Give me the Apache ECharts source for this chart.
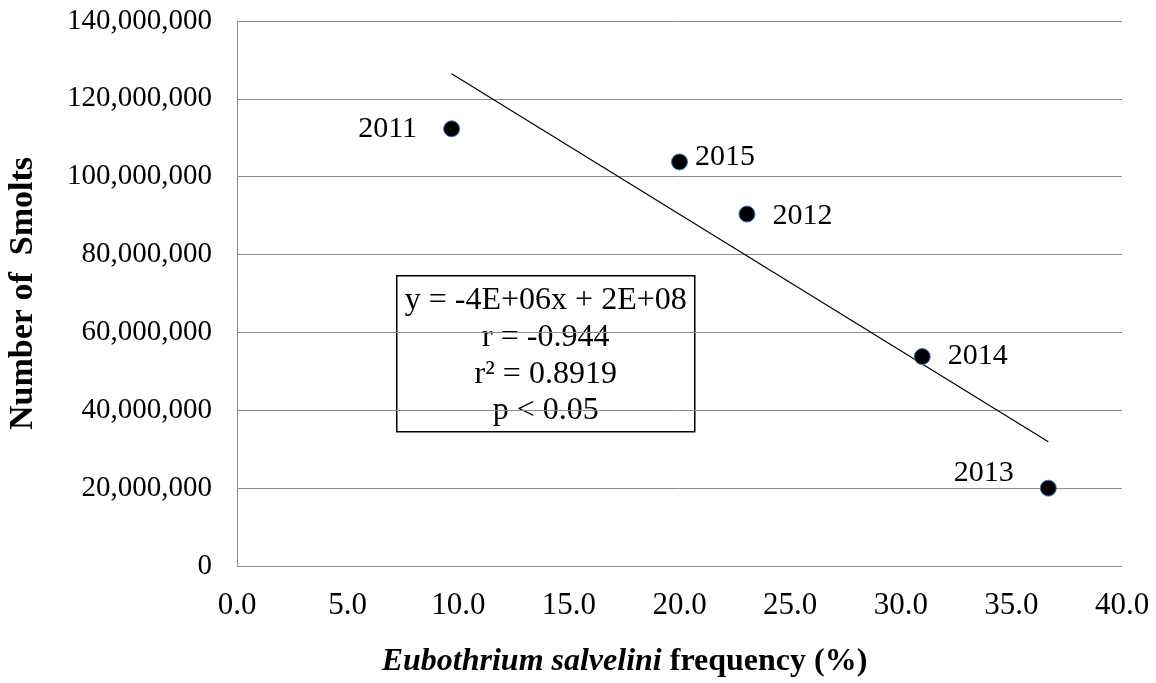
<!DOCTYPE html>
<html>
<head>
<meta charset="utf-8">
<script src="https://cdn.jsdelivr.net/npm/echarts@6/dist/echarts.min.js"></script>
<style>
html,body{margin:0;padding:0;background:#fff;}
#chart{width:1156px;height:683px;}
</style>
</head>
<body>
<div id="chart"></div>
<script>
// Smolt counts against Eubothrium salvelini frequency, by year
const years = ['2011', '2015', '2012', '2014', '2013'];
const frequency = [9.7, 20.0, 23.05, 30.97, 36.67];
const smolts = [112300000, 103800000, 90400000, 53800000, 20000000];
const statsLines = ['y = -4E+06x + 2E+08', 'r = -0.944', 'r\u00B2 = 0.8919', 'p < 0.05'];

// Where each year label sits relative to its point
const labelLayout = [
  { position: 'left', distance: 26, offset: [0, 0] },
  { position: 'right', distance: 7, offset: [0, -5] },
  { position: 'right', distance: 17, offset: [0, 2] },
  { position: 'right', distance: 17, offset: [0, 0] },
  { position: 'left', distance: 26, offset: [0, -15] }
];

// Least-squares fit drawn between the smallest and largest frequency
function linearFit(xs, ys) {
  const n = xs.length;
  const mx = xs.reduce((a, b) => a + b, 0) / n;
  const my = ys.reduce((a, b) => a + b, 0) / n;
  let sxy = 0, sxx = 0;
  for (let i = 0; i < n; i++) {
    sxy += (xs[i] - mx) * (ys[i] - my);
    sxx += (xs[i] - mx) * (xs[i] - mx);
  }
  const slope = sxy / sxx;
  return { slope, intercept: my - slope * mx };
}
const fit = linearFit(frequency, smolts);
const xMin = Math.min(...frequency), xMax = Math.max(...frequency);
const trend = [[xMin, fit.intercept + fit.slope * xMin], [xMax, fit.intercept + fit.slope * xMax]];

const serif = '"Liberation Serif", "Times New Roman", serif';
const chart = echarts.init(document.getElementById('chart'));

chart.setOption({
  animation: false,
  backgroundColor: '#fff',
  grid: { left: 237, right: 34, top: 21, bottom: 117, containLabel: false, outerBoundsMode: 'none' },
  xAxis: {
    type: 'value', min: 0, max: 40, interval: 5,
    name: '{i|Eubothrium salvelini}{b|\u00A0frequency (%)}',
    nameLocation: 'middle', nameGap: 80,
    nameTextStyle: {
      padding: [0, 110, 0, 0],
      rich: {
        i: { fontFamily: serif, fontSize: 32, fontWeight: 'bold', fontStyle: 'italic', color: '#000' },
        b: { fontFamily: serif, fontSize: 32, fontWeight: 'bold', color: '#000' }
      }
    },
    axisLine: { show: false },
    axisTick: { show: false },
    splitLine: { show: false },
    axisLabel: { fontFamily: serif, fontSize: 31, color: '#000', margin: 24,
      formatter: v => v.toFixed(1) }
  },
  yAxis: {
    type: 'value', min: 0, max: 140000000, interval: 20000000,
    name: 'Number of  Smolts', nameLocation: 'middle', nameGap: 197,
    nameTextStyle: { fontFamily: serif, fontSize: 34, fontWeight: 'bold', color: '#000' },
    axisLine: { show: true, lineStyle: { color: '#8c8c8c', width: 1 } },
    axisTick: { show: false },
    splitLine: { show: true, lineStyle: { color: '#8c8c8c', width: 1 } },
    axisLabel: { fontFamily: serif, fontSize: 29, color: '#000', margin: 25,
      formatter: v => v.toLocaleString('en-US') }
  },
  series: [
    {
      type: 'line', data: trend, symbol: 'none', silent: true,
      lineStyle: { color: '#000', width: 1.2 }, z: 2
    },
    {
      type: 'scatter', z: 3,
      data: frequency.map((x, i) => ({
        value: [x, smolts[i], years[i]],
        label: labelLayout[i]
      })),
      symbolSize: 16,
      itemStyle: { color: '#000', borderColor: '#4472C4', borderWidth: 1, opacity: 1 },
      label: {
        show: true, formatter: p => p.value[2],
        fontFamily: serif, fontSize: 30, color: '#000',
        textBorderWidth: 0, opacity: 1
      }
    }
  ],
  graphic: [
    {
      type: 'group', left: 396, top: 275,
      children: [
        { type: 'rect', shape: { x: 0, y: 0, width: 298, height: 156 },
          style: { fill: '#fff', stroke: '#000', lineWidth: 1.5 } },
        ...statsLines.map((t, i) => ({
          type: 'text', x: 149, y: 25 + i * 36.7,
          style: { text: t, fontFamily: serif, fontSize: 32, fill: '#000',
            align: 'center', verticalAlign: 'middle' }
        }))
      ]
    }
  ]
});
</script>
</body>
</html>
